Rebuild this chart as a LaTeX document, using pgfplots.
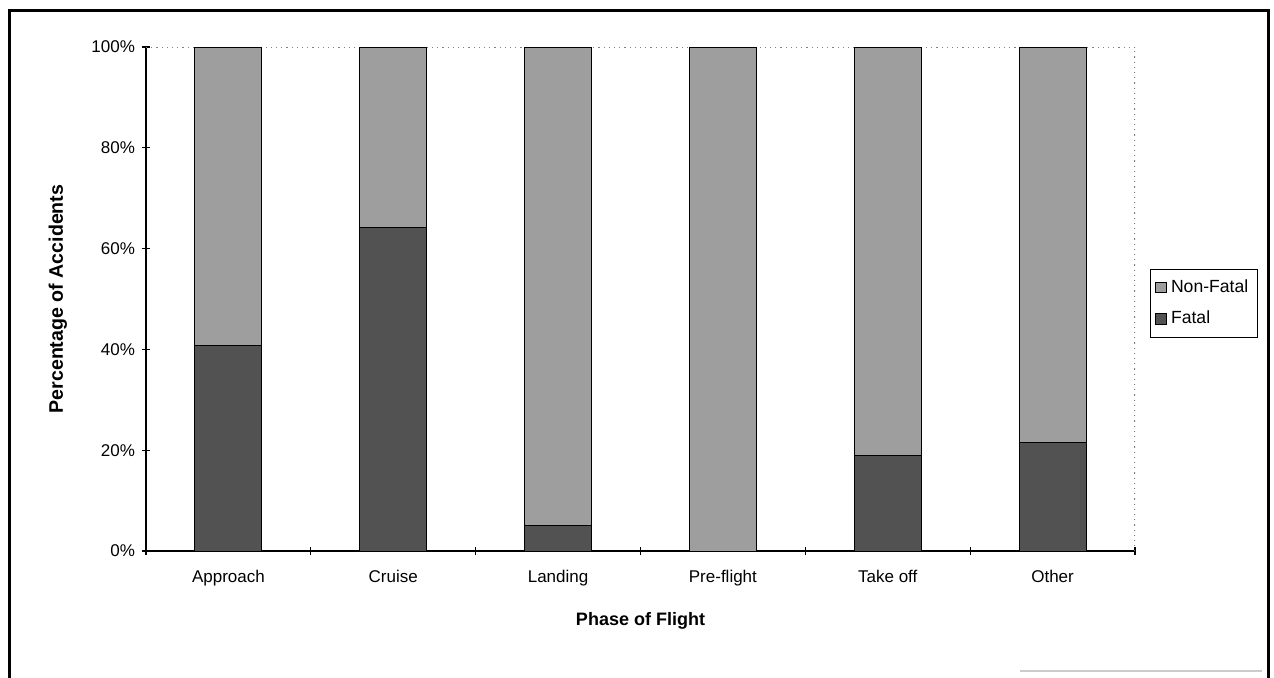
\documentclass[border=0pt]{standalone}
\usepackage{pgfplots}
\pgfplotsset{compat=1.18}
\usepackage{fontspec}
\setmainfont{Liberation Sans}
\definecolor{nonfatal}{RGB}{158,158,158}
\definecolor{fatal}{RGB}{82,82,82}
\begin{document}
\begin{tikzpicture}[x=0.5pt,y=0.5pt]
\useasboundingbox (0,0) rectangle (1274,677);
\draw[line width=1.5pt] (9,-2) -- (9,667) -- (1268,667) -- (1268,-2);
\draw[gray!40,line width=0.8pt] (1020,6) -- (1262,6);
\begin{axis}[
  at={(73pt,63pt)}, anchor=south west,
  scale only axis, width=494.5pt, height=252pt,
  ybar stacked, bar width=33.5pt,
  xmin=-0.5, xmax=5.5, ymin=0, ymax=100,
  axis x line*=bottom, axis y line*=left,
  axis line style={black, line width=0.6pt, -},
  xtick={0,1,2,3,4,5},
  xticklabels={Approach,Cruise,Landing,Pre-flight,Take off,Other},
  major x tick style={draw=none},
  minor xtick={-0.5,0.5,1.5,2.5,3.5,4.5,5.5},
  minor x tick style={draw=black, line width=0.6pt},
  minor tick length=4pt, major tick length=4pt,
  ytick style={black, line width=0.6pt},
  tick align=center,
  ytick={0,20,40,60,80,100},
  yticklabels={0\%,20\%,40\%,60\%,80\%,100\%},
  ticklabel style={font=\fontsize{8.5}{10}\selectfont},
  xticklabel style={yshift=-4pt},
  ylabel={Percentage of Accidents},
  xlabel={Phase of Flight},
  xlabel style={font=\fontsize{9}{11}\selectfont\bfseries, at={(axis description cs:0.5,-0.139)}, anchor=center},
  ylabel style={font=\fontsize{9.8}{11}\selectfont\bfseries, at={(axis description cs:-0.089,0.5)}, anchor=center},
  reverse legend,
  legend style={at={(axis description cs:1.0152,0.5595)}, anchor=north west,
    draw=black, line width=0.4pt, font=\fontsize{8.8}{10}\selectfont,
    inner xsep=2.5pt, inner ysep=3pt, row sep=4pt},
  legend cell align=left,
  legend image code/.code={\draw[#1, line width=0.4pt] (0pt,-2.6pt) rectangle (5.4pt,2.6pt);},
]
\addplot[fill=fatal, draw=black, line width=0.5pt] coordinates {(0,40.7) (1,64.2) (2,5.0) (3,0) (4,18.9) (5,21.6)};
\addlegendentry{Fatal}
\addplot[fill=nonfatal, draw=black, line width=0.5pt] coordinates {(0,59.3) (1,35.8) (2,95.0) (3,100) (4,81.1) (5,78.4)};
\addlegendentry{Non-Fatal}
\draw[gray, dotted, line width=0.6pt] (axis cs:-0.5,100) -- (axis cs:5.5,100) -- (axis cs:5.5,0);
\end{axis}
\end{tikzpicture}
\end{document}
